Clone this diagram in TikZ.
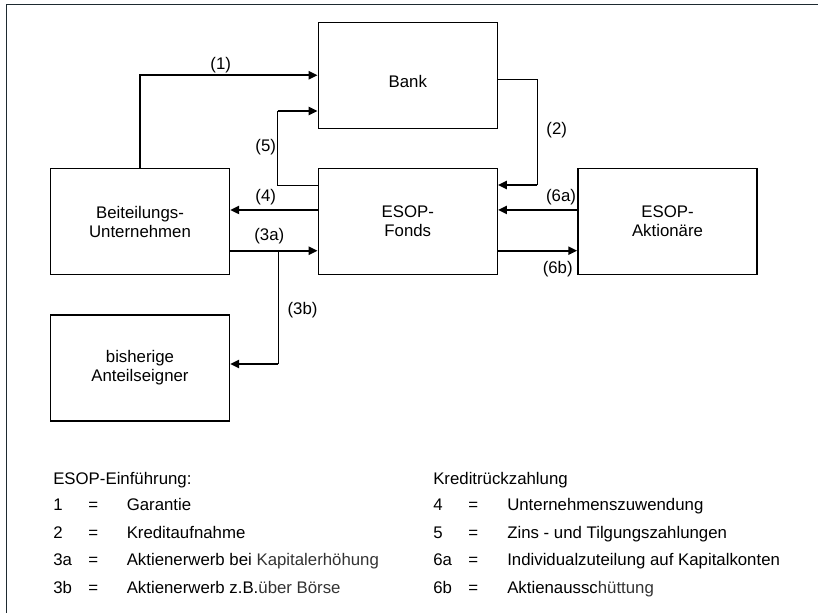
\documentclass[tikz,border=0pt]{standalone}
\usepackage{fontspec}
\setmainfont{Liberation Sans}
\usetikzlibrary{arrows.meta,calc}

\definecolor{framecol}{HTML}{1E2A30}
\definecolor{soft}{gray}{0.2}

\tikzset{
  box/.style={draw, line width=1pt, minimum width=134.25pt, minimum height=79.5pt, inner sep=0pt, align=center},
  flow/.style={line width=1.75pt, -{Triangle[length=6.75pt,width=6pt]}},
  wire/.style={line width=0.75pt},
  tag/.style={inner sep=0pt},
  key/.style={inner sep=0pt, anchor=base west},
}

\begin{document}
\begin{tikzpicture}[x=0.75pt, y=-0.75pt, every node/.style={font=\fontsize{12.6}{14.25}\selectfont}]
	\useasboundingbox (0,0) rectangle (818,613);
	\draw[framecol, line width=1pt] (6.7,613) -- (6.7,4.7) -- (818,4.7);
	% boxes
	\node[box] (bank) at (407.8,75.3) {\raisebox{-4.9pt}[\height][\depth]{Bank}};
	\node[box] (firm) at (140,221.7) {Beiteilungs-\\Unternehmen};
	\node[box] (fonds) at (407.8,221.7) {ESOP-\\Fonds};
	\node[box] (holders) at (667.5,221.7) {ESOP-\\Aktionäre};
	\node[box] (owners) at (140,368) {bisherige\\Anteilseigner};
	% corners of the bent connectors
	\coordinate (c5) at (277.5,111);
	\coordinate (c2) at (537.3,185);
	\coordinate (b3) at (278.3,250.7);
	\coordinate (c3) at (278.3,364);
	% connectors
	\draw[flow] (firm.north) |- (bank.west);
	\draw[wire] ([yshift=-12.75pt]fonds.north west) -| (c5);
	\draw[flow] (c5) -- (c5 -| bank.west);
	\draw[wire] ([yshift=-3pt]bank.east) -| (c2);
	\draw[flow] (c2) -- (c2 -| fonds.east);
	\draw[flow] ([yshift=8.8pt]fonds.west) -- ([yshift=8.8pt]firm.east);
	\draw[flow] ([yshift=-21.75pt]firm.east) -- ([yshift=-21.75pt]fonds.west);
	\draw[wire] (b3) -- (c3);
	\draw[flow] (c3) -- (c3 -| owners.east);
	\draw[flow] ([yshift=8.8pt]holders.west) -- ([yshift=8.8pt]fonds.east);
	\draw[flow] ([yshift=-21.75pt]fonds.east) -- ([yshift=-21.75pt]holders.west);
	% connector labels
	\node[tag] (l1) at (220.7,65) {(1)};
	\node[tag] (l2) at (556.7,130) {(2)};
	\node[tag] (l5) at (265.7,147.3) {(5)};
	\node[tag] (l4) at (265.7,196.7) {(4)};
	\node[tag] (l3a) at (269.3,235.7) {(3a)};
	\node[tag] (l3b) at (302.5,310) {(3b)};
	\node[tag] (l6a) at (561,196.7) {(6a)};
	\node[tag] (l6b) at (557.7,269) {(6b)};
	% legend
	\node[key] (headl) at (53,484.5) {ESOP-Einführung:};
	\node[key] (headr) at (433,484.5) {Kreditrückzahlung};
	\foreach \num/\txt [count=\i] in {1/Garantie, 2/Kreditaufnahme, 3a/{Aktienerwerb bei \textcolor{soft}{Kapitalerhöhung}}, 3b/{Aktienerwerb z.B.\textcolor{soft}{über Börse}}} {
		\node[key] (nl\i) at (53,{510.5+27.7*(\i-1)}) {\num};
		\node[key] (el\i) at (88,{510.5+27.7*(\i-1)}) {=};
		\node[key] (tl\i) at (126.5,{510.5+27.7*(\i-1)}) {\txt};
	}
	\foreach \num/\txt [count=\i] in {4/Unternehmenszuwendung, 5/Zins - und Tilgungszahlungen, 6a/Individualzuteilung auf Kapitalkonten, 6b/{Aktienaussc\textcolor{soft}{hüttung}}} {
		\node[key] (nr\i) at (433,{510.5+27.7*(\i-1)}) {\num};
		\node[key] (er\i) at (468,{510.5+27.7*(\i-1)}) {=};
		\node[key] (tr\i) at (507,{510.5+27.7*(\i-1)}) {\txt};
	}
\end{tikzpicture}
\end{document}
